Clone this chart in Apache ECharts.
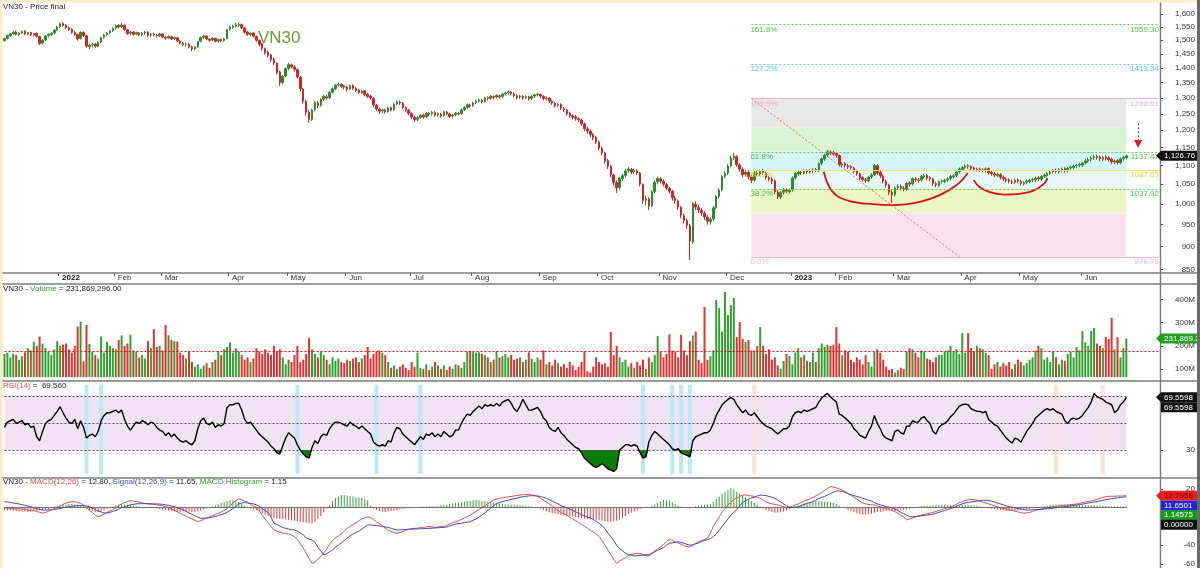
<!DOCTYPE html>
<html><head><meta charset="utf-8">
<script src="https://cdn.jsdelivr.net/npm/echarts@6/dist/echarts.min.js"></script>
<style>html,body{margin:0;padding:0;background:#fff;}#chart{width:1200px;height:568px;}</style>
</head><body><div id="chart"></div>
<script>
// ---------------- DATA ----------------
const slotCount = 395; // trading-day slots on the time axis (384 bars + empty right margin)
const categories = Array.from({length: slotCount}, (_, i) => String(i));
const monthIdx = [19,38,54,77,97,117,139,160,183,203,224,247,269,284,304,327,347,368];
const monthLabels = ['2022','Feb','Mar','Apr','May','Jun','Jul','Aug','Sep','Oct','Nov','Dec','2023','Feb','Mar','Apr','May','Jun'];

// [open, close, low, high]
const candles = [
[1498,1506,1495,1510],[1507,1518,1503,1521],[1517,1524,1512,1528],[1525,1530,1520,1534],[1531,1522,1518,1535],
[1521,1527,1516,1530],[1528,1533,1524,1537],[1534,1524,1520,1538],[1523,1528,1519,1531],[1529,1521,1516,1532],
[1520,1525,1514,1528],[1526,1515,1510,1529],[1514,1488,1482,1516],[1489,1500,1484,1504],[1501,1516,1497,1519],
[1517,1522,1511,1526],[1521,1526,1516,1530],[1527,1538,1522,1542],[1539,1550,1535,1555],[1551,1562,1546,1568],
[1563,1556,1550,1570],[1557,1548,1542,1561],[1547,1540,1535,1552],[1541,1530,1524,1545],[1529,1522,1516,1534],
[1521,1505,1498,1525],[1506,1530,1503,1533],[1529,1518,1512,1533],[1517,1478,1472,1520],[1477,1482,1468,1488],
[1483,1485,1474,1490],[1486,1478,1472,1490],[1479,1492,1475,1496],[1493,1510,1489,1513],[1511,1520,1506,1524],
[1521,1527,1515,1531],[1528,1535,1523,1539],[1536,1545,1531,1549],[1546,1555,1540,1560],[1556,1550,1544,1561],
[1551,1558,1546,1565],[1557,1540,1535,1560],[1539,1525,1520,1543],[1526,1530,1519,1535],[1531,1522,1517,1534],
[1523,1528,1518,1532],[1527,1520,1515,1531],[1521,1526,1516,1530],[1527,1530,1520,1535],[1531,1518,1513,1534],
[1519,1522,1512,1527],[1523,1520,1514,1528],[1519,1516,1510,1524],[1517,1524,1512,1528],[1523,1512,1507,1527],
[1511,1508,1502,1516],[1509,1514,1504,1518],[1513,1505,1500,1517],[1506,1510,1500,1514],[1509,1498,1492,1512],
[1497,1490,1484,1501],[1489,1484,1478,1494],[1485,1486,1476,1492],[1485,1476,1470,1489],[1475,1468,1460,1480],
[1469,1474,1462,1478],[1475,1495,1472,1498],[1496,1510,1492,1514],[1511,1516,1505,1521],[1515,1505,1500,1519],
[1504,1500,1494,1508],[1501,1508,1496,1512],[1507,1496,1492,1510],[1497,1502,1490,1506],[1503,1498,1492,1507],
[1499,1505,1494,1509],[1506,1540,1503,1543],[1541,1550,1536,1555],[1549,1553,1543,1559],[1554,1558,1548,1566],
[1557,1560,1550,1568],[1559,1548,1542,1563],[1547,1530,1525,1550],[1531,1522,1516,1535],[1521,1526,1515,1530],
[1527,1515,1510,1530],[1514,1500,1494,1517],[1499,1485,1478,1503],[1486,1470,1462,1490],[1469,1455,1448,1473],
[1456,1445,1438,1462],[1446,1430,1422,1450],[1431,1418,1410,1436],[1417,1385,1378,1420],[1386,1350,1340,1390],
[1351,1372,1345,1376],[1373,1398,1368,1402],[1399,1412,1392,1418],[1411,1405,1398,1416],[1404,1396,1388,1410],
[1395,1370,1364,1398],[1369,1330,1322,1372],[1329,1290,1282,1332],[1289,1255,1245,1294],[1254,1232,1222,1262],
[1233,1262,1228,1266],[1263,1285,1258,1290],[1284,1276,1268,1290],[1277,1295,1272,1299],[1296,1305,1290,1310],
[1304,1300,1294,1310],[1301,1318,1297,1322],[1319,1330,1314,1334],[1331,1342,1326,1346],[1343,1345,1336,1350],
[1344,1338,1332,1348],[1339,1335,1328,1343],[1336,1328,1322,1340],[1329,1340,1325,1344],[1341,1332,1326,1345],
[1331,1325,1320,1336],[1326,1318,1312,1330],[1317,1322,1312,1327],[1323,1312,1306,1326],[1311,1305,1300,1316],
[1306,1300,1294,1310],[1299,1278,1272,1302],[1277,1265,1258,1281],[1264,1258,1250,1269],[1259,1262,1252,1267],
[1261,1256,1250,1266],[1257,1268,1253,1272],[1269,1262,1257,1273],[1263,1280,1259,1284],[1281,1288,1276,1292],
[1287,1284,1278,1292],[1283,1270,1265,1287],[1269,1262,1256,1273],[1261,1252,1246,1265],[1251,1240,1234,1255],
[1239,1232,1225,1244],[1233,1238,1228,1242],[1239,1245,1234,1249],[1246,1240,1235,1250],[1241,1252,1237,1256],
[1251,1248,1242,1256],[1249,1255,1244,1259],[1254,1246,1241,1258],[1247,1250,1242,1254],[1249,1244,1238,1253],
[1245,1256,1241,1260],[1255,1250,1245,1259],[1249,1242,1237,1253],[1243,1246,1238,1250],[1247,1252,1242,1256],
[1251,1250,1244,1256],[1251,1262,1247,1266],[1263,1270,1258,1274],[1271,1278,1266,1282],[1277,1275,1269,1282],
[1276,1284,1271,1288],[1285,1290,1280,1294],[1291,1294,1286,1298],[1293,1288,1283,1297],[1289,1300,1285,1304],
[1301,1298,1292,1305],[1299,1305,1294,1309],[1304,1302,1296,1308],[1303,1308,1298,1312],[1307,1304,1298,1311],
[1305,1312,1300,1316],[1313,1316,1308,1320],[1317,1320,1311,1325],[1319,1314,1308,1323],[1313,1308,1302,1318],
[1307,1302,1296,1312],[1303,1306,1297,1310],[1305,1300,1294,1309],[1301,1304,1296,1308],[1303,1298,1292,1307],
[1299,1305,1294,1309],[1306,1310,1300,1314],[1311,1312,1305,1317],[1311,1306,1300,1315],[1305,1298,1292,1309],
[1299,1300,1292,1305],[1299,1290,1284,1303],[1289,1284,1278,1293],[1283,1276,1270,1287],[1277,1280,1270,1285],
[1279,1268,1262,1283],[1267,1262,1256,1271],[1261,1250,1244,1265],[1251,1245,1238,1256],[1244,1240,1233,1249],
[1241,1236,1229,1246],[1235,1232,1225,1240],[1231,1220,1213,1235],[1219,1205,1198,1223],[1204,1198,1190,1210],
[1197,1188,1180,1202],[1187,1178,1171,1192],[1179,1166,1160,1183],[1165,1148,1142,1170],[1147,1135,1128,1152],
[1134,1112,1105,1138],[1113,1098,1090,1118],[1097,1075,1068,1101],[1074,1055,1046,1078],[1054,1040,1027,1060],
[1041,1065,1036,1069],[1064,1072,1058,1077],[1073,1085,1068,1090],[1086,1090,1080,1095],[1089,1082,1076,1093],
[1083,1086,1077,1091],[1085,1080,1074,1090],[1079,1050,1044,1082],[1049,1008,1000,1052],[1009,1012,996,1020],
[1011,995,985,1016],[996,1030,992,1034],[1031,1055,1027,1060],[1056,1065,1050,1070],[1064,1058,1052,1069],
[1057,1050,1044,1062],[1049,1040,1034,1053],[1039,1032,1026,1043],[1031,1015,1008,1035],[1014,1008,1000,1020],
[1007,992,985,1011],[991,972,965,995],[971,960,952,976],[959,948,940,964],[947,912,870,952],
[910,1000,905,1004],[999,992,985,1006],[991,985,978,997],[984,978,970,989],[977,968,960,982],
[967,958,950,972],[957,962,950,967],[963,990,958,994],[991,1018,987,1022],[1019,1035,1014,1040],
[1036,1070,1032,1074],[1071,1078,1065,1084],[1079,1098,1074,1103],[1099,1120,1094,1126],[1121,1125,1114,1134],
[1124,1102,1096,1128],[1101,1090,1083,1106],[1089,1075,1068,1094],[1076,1082,1070,1088],[1081,1070,1062,1086],
[1069,1060,1053,1074],[1061,1080,1057,1084],[1079,1078,1072,1086],[1077,1084,1072,1089],[1085,1080,1074,1090],
[1079,1068,1062,1083],[1067,1064,1057,1072],[1063,1058,1050,1068],[1059,1030,1024,1062],[1029,1018,1012,1034],
[1017,1028,1012,1032],[1029,1035,1023,1040],[1034,1032,1026,1039],[1031,1034,1026,1038],[1035,1066,1031,1070],
[1067,1078,1062,1082],[1077,1082,1072,1086],[1081,1080,1074,1086],[1079,1084,1075,1088],[1085,1083,1078,1089],
[1082,1086,1078,1090],[1085,1088,1080,1092],[1089,1087,1082,1093],[1086,1105,1082,1108],[1106,1118,1100,1122],
[1117,1128,1112,1132],[1129,1138,1123,1143],[1137,1134,1128,1142],[1135,1132,1126,1140],[1133,1128,1121,1137],
[1127,1102,1097,1130],[1101,1104,1095,1109],[1105,1100,1094,1109],[1099,1096,1090,1104],[1097,1094,1088,1101],
[1093,1084,1078,1096],[1085,1078,1072,1088],[1077,1066,1060,1080],[1067,1062,1056,1071],[1061,1060,1053,1066],
[1059,1068,1055,1072],[1069,1074,1064,1079],[1075,1100,1071,1104],[1099,1080,1074,1103],[1081,1072,1066,1085],
[1071,1058,1052,1075],[1057,1048,1041,1062],[1047,1030,1022,1051],[1029,1022,1002,1034],[1023,1040,1018,1044],
[1041,1045,1035,1050],[1044,1040,1034,1049],[1039,1038,1031,1045],[1037,1052,1033,1056],[1053,1050,1044,1058],
[1051,1064,1046,1068],[1063,1062,1056,1069],[1061,1060,1054,1066],[1061,1070,1056,1074],[1069,1072,1064,1077],
[1073,1066,1060,1077],[1067,1064,1058,1071],[1063,1052,1046,1067],[1051,1048,1042,1056],[1047,1056,1043,1060],
[1057,1058,1051,1062],[1057,1060,1052,1064],[1061,1064,1056,1068],[1065,1070,1060,1074],[1069,1072,1065,1076],
[1073,1082,1068,1086],[1083,1090,1078,1094],[1089,1094,1085,1098],[1095,1098,1090,1102],[1099,1097,1091,1103],
[1096,1092,1086,1100],[1093,1090,1084,1097],[1089,1089,1083,1094],[1090,1088,1082,1094],[1087,1087,1081,1092],
[1086,1090,1081,1094],[1091,1080,1075,1094],[1081,1078,1072,1085],[1077,1074,1068,1082],[1073,1076,1068,1080],
[1075,1068,1062,1079],[1067,1064,1058,1072],[1063,1060,1054,1068],[1061,1058,1052,1065],[1057,1056,1050,1062],
[1055,1060,1050,1064],[1061,1058,1052,1065],[1057,1052,1046,1061],[1051,1054,1046,1058],[1055,1058,1050,1062],
[1057,1060,1052,1064],[1061,1062,1055,1066],[1061,1066,1056,1070],[1067,1064,1058,1071],[1063,1070,1058,1074],
[1071,1074,1066,1078],[1073,1078,1068,1082],[1079,1082,1074,1086],[1083,1086,1078,1090],[1087,1084,1078,1091],
[1083,1088,1078,1092],[1089,1090,1083,1094],[1091,1086,1080,1095],[1085,1092,1081,1096],[1093,1095,1088,1099],
[1094,1098,1089,1102],[1099,1100,1093,1105],[1101,1102,1095,1107],[1101,1106,1096,1110],[1107,1112,1102,1117],
[1113,1116,1107,1121],[1117,1120,1111,1125],[1121,1124,1115,1129],[1125,1122,1116,1130],[1123,1118,1112,1127],
[1117,1122,1112,1126],[1123,1120,1114,1128],[1121,1116,1110,1125],[1117,1110,1104,1120],[1109,1112,1103,1116],
[1113,1108,1102,1117],[1107,1118,1103,1122],[1119,1122,1113,1126],[1121,1126.76,1116,1130]
];

// volume in millions of shares
const volumesM = [
165,170,150,165,160,140,155,172,190,180,
218,200,240,210,190,175,160,185,220,200,
205,210,185,170,200,283,304,133,290,208,
175,160,145,240,170,218,200,190,185,225,
245,200,210,248,180,175,150,160,145,220,
190,272,195,200,180,290,246,225,220,218,
170,160,145,175,130,110,120,100,115,125,
105,130,140,177,160,185,195,215,170,190,
175,160,140,150,130,145,190,175,165,185,
170,160,200,175,185,150,120,140,130,160,
200,130,140,165,235,185,165,150,175,160,
140,120,150,135,145,130,125,140,135,145,
150,130,145,160,195,145,165,175,180,170,
160,130,105,115,100,110,120,105,95,130,
110,170,105,100,120,95,110,130,115,100,
115,95,110,100,120,115,105,130,176,178,
175,170,172,165,160,150,130,140,176,150,
155,165,150,160,140,145,150,130,140,172,
145,130,150,140,180,120,130,115,140,125,
110,120,105,130,115,95,110,130,176,90,
85,110,150,130,120,125,110,260,160,200,
150,130,140,110,125,105,130,115,140,100,
150,130,160,242,175,150,165,250,180,175,
150,248,180,160,220,245,262,140,125,368,
140,155,180,398,364,262,433,333,376,407,
238,303,230,217,225,180,180,200,281,200,
165,185,140,150,115,100,135,165,155,120,
170,190,150,160,135,130,170,130,190,210,
195,205,200,205,281,210,160,180,175,140,
130,150,140,120,160,130,110,175,185,170,
140,110,95,100,85,95,105,100,175,190,
185,170,150,180,175,145,140,130,150,160,
160,175,180,200,175,185,165,255,170,255,
190,175,200,190,185,170,160,100,120,130,
110,125,115,130,100,120,140,130,115,125,
140,150,180,200,190,140,150,130,175,150,
120,140,135,165,175,150,195,180,264,215,
200,264,277,210,200,190,238,230,322,185,
238,150,190,231.87
];
const volumeAvgM = 178;

const rsi14 = [
47,51,52,53,50,51,52,49,50,47,
48,40,37,44,50,52,53,56,59,62.5,
58,54,51,50,53,46,52,47,39,41,
42,40,44,52,56,58,58,59,60,58,
60,53,48,45,48,51,50,52,51,49,
51,50,47,45,44,41,43,40,42,39,
37,36,37,35,34,37,46,52,54,50,
49,51,47,49,48,50,62,64,64,65,
65,60,53,50,51,48,45,42,40,38,
36,33,31,28,27,33,39,43,41,39,
34,30,27,25,24,32,37,35,40,42,
41,46,49,51,51,50,49,48,51,49,
48,46,48,46,44,42,36,34,33,34,
33,37,36,43,47,46,42,40,38,36,
34,37,40,38,42,41,43,40,42,40,
44,42,40,41,45,45,50,54,57,56,
59,61,63,61,64,63,64,63,65,63,
66,67,68,65,61,59,63,68,64,60,
60,61,62,59,54,52,47,45,44,47,
43,41,38,36,34,32,31,28,24,22,
20,18,17,18,20,18,16,15,14,16,
30,32,34,34,33,34,33,28,24,25,
36,41,44,42,40,38,36,34,31,30,
31,28,27,26,25,37,40,41,42,43,
43,45,50,56,60,64,66,68,69.3,68,
64,61,58,60,57,56,58,55,52,50,
48,47,46,44,42,44,46,46,48,55,
58,59,58,60,59,60,61,62,66,69,
71,72.5,70,68,66,57,56,54,52,50,
46,44,41,40,39,44,48,56,50,46,
41,39,38,37,44,45,43,42,48,48,
52,51,51,54,55,52,50,44,42,47,
49,50,52,55,57,60,63,64,64.5,64,
61,60,59,59,58,59,53,51,49,48,
45,42,39,37,35.3,39,38,36,40,44,
47,50,54,56,58,60,61,60,61,59,
58,57,52,50,53,54,53,54,56,59,
62,66,72.5,70,69,68,66,65,64,58,
60,64,66,69.56
];
const rsiLevels = [70, 50, 30];
const rsiBuyMarks = [28,33,100,127,142,218,228,231,234];
const rsiSellMarks = [256,359,375];

const macdLine = [
0,-0.5,-1,-1,-1.5,-1,-1.5,-2,-2.5,-3,
-3,-4,-5,-5.7,-5,-4,-2.5,-1,0,2,
3.5,5,5.8,6.2,6.4,5.5,4.5,3,0,-3,
-5,-8,-9.6,-8.5,-7,-5,-3.5,-2,0,2,
4,5.5,6.5,7.4,7,6.5,6,5,4.5,4,
3.8,3.5,3,2.5,2,1,0,-1.5,-3,-4.5,
-6,-7.5,-9,-10.5,-12,-13.5,-14.9,-14,-12.5,-11,
-10,-8.5,-7,-6,-4.5,-3,-1,2,5,7.5,
9.3,8.5,7,6,3.5,1.5,0,-3,-8,-12,
-16,-20,-23.7,-25,-26,-27,-27.5,-28,-29,-31,
-34,-38,-43,-48.5,-54,-59.2,-58,-55,-52,-48.5,
-44,-39,-35,-32,-30,-28,-25,-22,-20,-18,
-16,-14,-12,-11,-9.6,-10.5,-12.5,-15,-17,-19,
-22,-24,-25.5,-26.5,-27.2,-26.5,-25.5,-24,-23,-22.5,
-22,-22,-21,-21,-20.5,-20,-20.5,-21,-20.5,-20,
-20,-19,-17.5,-16,-15,-14,-12.5,-11,-9.5,-8,
-6,-4,-2,0,2,4,6,8.2,9,10,
10.5,11,11.5,12,12.5,13,13.5,13.8,14,14.2,
13.5,13,12,10,8,6,4,2,-1,-3,
-5,-6.5,-8,-10,-12,-14,-16,-18,-20,-22,
-24,-26,-28,-30.8,-35,-40,-45,-50,-55,-59.2,
-57,-55,-53,-51,-50,-49,-48.5,-49,-50,-51,
-51.4,-49,-46,-44,-42,-39,-36,-33.6,-35,-36.5,
-37.6,-39,-40.5,-41.5,-42.1,-40,-38,-36,-35,-34,
-32.6,-27,-20,-15,-10,-5,-1,3,6,8.5,
10.5,12,13.5,13.5,13,12.5,12,11,10,8,
6,5,4,3.5,2.9,2,1,0,0.5,1.5,
3,4,5.5,7,8,9.3,11,12.5,14,16,
18.5,20.5,22.4,22,21,20,18.5,17,15,13,
11,9,7,5,4,3.5,3.2,2.9,2,1,
0,-1,-2,-3,-4.2,-6,-8,-10,-13,-12,
-11,-10,-9,-8,-7,-6.5,-5.9,-5,-4,-3,
-2,-1,0,1,2,3.5,5.4,6.5,7.5,8.3,
8.9,8.5,8,7,6,5,4,3,2,1,
0,-0.8,-1.5,-2.2,-3,-3.8,-4.5,-5.2,-5.9,-5.5,
-5,-4,-3,-2,-1.5,-1,0,0.5,1,1.5,
1.9,2.2,2.5,2.8,3.2,3.5,4,4.5,5.3,6,
6.5,7.2,8,9,10,10.8,11.7,12,12.2,12,
12.5,12.3,12.6,12.8
];
const signalLine = [
6.4,6,5.5,5,4.5,4,3.2,2.5,1.8,1,
0,-1,-2,-2.5,-2.6,-2.5,-2.2,-2,-1.5,-1,
0,0.5,1,1.5,2,2.2,2.3,2.2,1.8,1,
-0.5,-2,-3.5,-4.5,-5.7,-5.5,-5,-4,-3,-1.5,
0,1,2,3,3.5,4,4.2,4.3,4.3,4.2,
4.1,4,4,3.8,3.5,3,2.5,1.8,1,0,
-1,-2.5,-4,-5.5,-7,-8.5,-10,-11.3,-11.3,-11,
-10.5,-10,-9.3,-8.5,-7.5,-6.5,-5,-3,-1,1.5,
4,5,5.5,5,4.5,4,3,1.5,-1,-3,
-5,-10,-16.6,-18,-19.5,-21,-22,-22.8,-23.3,-23.7,
-25,-27,-29,-32,-33.5,-34.4,-37,-42,-46,-50.3,
-49,-47,-45,-42,-40,-37.6,-35,-32.5,-30,-28,
-26.5,-25,-23,-20.5,-18.4,-18.5,-18.7,-19,-19.5,-20,
-20.5,-21,-22,-23,-23.7,-23.7,-23.5,-23.3,-23,-22.8,
-22.7,-22.6,-22.5,-22.3,-22.2,-22,-21.8,-21.6,-21.4,-21.2,
-21,-20.5,-19.5,-18.5,-17.5,-17,-16.5,-16,-15.5,-14.9,
-13.5,-12,-10,-8,-5.5,-3,-0.5,2,4.6,5.5,
6.5,7.3,8,8.8,9.5,10.2,11,11.6,12.1,12.5,
12.8,12.7,12.4,11.9,11,10,8.5,7,5.5,4,
2,1,0,-1.5,-3,-4.5,-6,-7.5,-8.8,-10,
-11,-12.5,-14.5,-16.6,-19,-22.5,-27,-31,-35,-40,
-43.5,-46,-48.5,-50,-50.8,-51.4,-51.2,-50.8,-50.5,-50.2,
-50,-48.5,-47,-45.5,-44,-42.5,-40,-38,-37.5,-37,
-36.2,-37,-38,-39,-40,-39.5,-38.5,-37.5,-36,-35,
-34,-33,-30.8,-28,-24,-20,-16,-12,-8,-5,
-2,2,5.4,7.5,9,10.5,11,12.5,13.5,13.2,
12.8,12,11,10,8,6,4,2,0.2,0.2,
0.5,1,2,3.5,4.5,5.4,6.5,8,9.5,11,
12,13.5,15,16.5,17.8,17.8,17.5,16,15,13.8,
12.8,12,11,10,9,8,7,5.5,4,3,
2,1,0.5,0,-1.5,-3,-5,-6.5,-8,-9.6,
-9.6,-9.4,-9,-8.6,-8.2,-7.8,-7.6,-7,-6,-5,
-4,-3,-2,-1,0,1.5,2.9,4,5,5.6,
6,6.5,7,7.5,8,8,7.5,7,6,5,
4,3,2,1,0.5,0,-0.8,-1.5,-2,-2.5,
-2.5,-2.3,-2.1,-2,-1.8,-1.5,-1.2,-1,-0.5,0,
0.2,0.5,1,1.5,2,2.3,2.8,3.3,3.8,4.4,
5,5.5,6,6.6,7.2,7.8,8.5,9,9.5,10,
10.5,11,11.3,11.65
];
const macdHist = [
-2.5,-3,-3,-3.5,-3.5,-4,-4,-4,-4.5,-4,
-3.5,-3.5,-3,-2.5,-2,-1.5,-0.5,1,2,2.5,
3,3.5,4,4,3.5,3,2.5,1.5,-1,-2.5,
-3.5,-4.5,-4.5,-4,-3,-1.5,0.5,1.5,2.5,3,
3.5,3.5,3,2.5,2,1.5,1.2,0.8,0.5,0.3,
-0.3,-0.5,-1,-1.5,-2,-2.5,-3,-3.5,-4,-4.5,
-4.5,-4,-4,-4,-4.5,-4.5,-4,-3,-2,-1,
0.5,1.5,2.5,3.5,5,6,7,8,8,7.5,
6,4,2,1,-0.5,-2,-3,-4.5,-6,-7.5,
-9,-10,-11,-11.5,-12,-12,-12.5,-13,-13.5,-14,
-14.5,-15,-15.5,-16,-16.6,-16.6,-15,-12,-9,-5,
-1,3,7,10,12,13.5,13.5,13,12.5,12,
11,10.5,10,9,8,2,-1,-2.5,-3.5,-4.5,
-4.5,-4,-3.5,-3,-2.5,-2,-1.5,-1,-0.5,0.3,
0.5,0.5,0.8,1,1.2,1.5,1.5,1.8,2,2.5,
3,3.5,4,4.5,5,5.5,6,6.5,7,7.5,
8,8.2,8,7.5,7,6.5,6,5.5,5,4.5,
4,3.7,3.5,3.2,3,2.8,2.5,2.2,2,1.7,
1.2,0.6,0,-1,-2.5,-4,-5,-6,-6.5,-7,
-7.5,-8,-8.5,-9,-9.5,-10,-10.5,-11,-11.5,-12,
-12.5,-13,-13,-13.5,-14,-14.5,-14.9,-14.9,-14.5,-14,
-13,-11,-9,-7,-5.5,-4,-3,-1.5,-0.5,0.5,
1,2,3.5,5,6.5,8.2,8,7.5,6,4,
2,1,0.5,-0.5,-1,0.5,1.5,2,2.5,3,
3.5,4,6,9,12,15,17,19,20.6,19.5,
17,15,13,11,9,7,5,3,1,-1,
-2.5,-3.5,-4.5,-5.3,-5.3,-5,-4,-3,-1.5,0.5,
1.5,2.5,3.5,4.5,5.5,6,6.5,7.1,7,6.8,
6.5,6,5.5,5,4,2,0.5,-1,-2.5,-4,
-5,-6,-7,-7.6,-7.6,-7,-6.5,-5.5,-5,-4.5,
-4,-3.5,-3,-3,-3.5,-3.5,-3,-2.5,-2,-1,
-0.5,0.5,1,1.5,1.8,2,2.2,2.4,2.6,2.8,
3,3,2.8,2.6,2.5,2.5,2.6,2.8,3,3,
2.8,2.5,2,1.5,1,0.5,-0.5,-1,-1.5,-2,
-2.5,-3,-3.5,-3.5,-3.5,-3.5,-3,-2.8,-2.5,-2,
-1.5,-1,-0.5,0.5,1,1.5,2,2.5,2.8,3,
3.2,3.4,3.5,3.6,3.6,3.5,3.4,3.3,3.2,3,
2.8,2.6,2.4,2.3,2.2,2,1.8,1.6,1.4,1.3,
1.2,1.2,1.15,1.15
];

// axis ticks
const priceTicks = [850,900,950,1000,1050,1100,1150,1200,1250,1300,1350,1400,1450,1500,1550,1600];
const volumeTicks = [100,200,300,400];
const rsiTicks = [30];
const macdTicks = [20,-40,-60];

// Fibonacci drawing
const fibStartIdx = 255, fibEndIdx = 383, fibDiagEndIdx = 326;
const fibPct = ['161.8%','127.2%','100.0%','61.8%','50.0%','38.2%','0.0%'];
const fibValues = [1559.30,1413.34,1298.61,1137.47,1087.69,1037.92,876.76];
const fibBandEdges = [1298.61,1208.33,1137.47,1087.69,1037.92,976.32,876.76];
// cup & handle arcs [slot, price]
const arcBig = [[279.7,1082.6],[282.8,1029.4],[288.6,1006.7],[296.4,999.2],[303.3,996.7],[312.5,1004.9],[319.3,1021.8],[325.1,1047.5],[328.9,1079.2]];
const arcSmall = [[330.9,1060.5],[332.9,1042.3],[336.4,1029.4],[341.5,1023],[346.6,1025],[351.7,1034.5],[355.1,1052.7],[356.1,1065.8]];
const arrowIdx = 387, arrowTop = 1221, arrowTip = 1160;

// last values shown in tags
const lastPrice = 1126.76, lastVolumeM = 231.8693, lastRsi = 69.5598;
const lastMacd = 12.7958, lastSignal = 11.6501, lastHist = 1.14575;

// ---------------- CHART ----------------
const FONT = '"Liberation Sans", Arial, sans-serif';
const UP = '#2b8c2b', DOWN = '#cd2525';
const L = v => Math.log10(v);
const chart = echarts.init(document.getElementById('chart'));
const monthMap = new Map(monthIdx.map((v, k) => [v, monthLabels[k]]));

const fibLineStyles = [
  {color:'#5ccf5c', type:[2,2]}, {color:'#62cfdd', type:[2,2]}, {color:'#f2b4c6', type:'solid'},
  {color:'#5ccf5c', type:[2,2]}, {color:'#ecec66', type:'solid'}, {color:'#5ccf5c', type:[2,2]},
  {color:'#f2b4c6', type:'solid'}
];
const fibTextColors = ['#4cc44c','#52c4d4','#f0b0c4','#4cc44c','#d6d63a','#4cc44c','#f0b8c8'];
const bandColors = ['#e8e8e8','#d9f4d2','#d4f4f7','#e8f8f6','#ebf6c4','#fbe1ee'];

const hiddenCat = g => ({type:'category', gridIndex:g, data:categories, boundaryGap:true,
  axisLine:{show:false, onZero:false}, axisTick:{show:false}, axisLabel:{show:false}, splitLine:{show:false}});
const yAxisOf = (g, min, max, ticks, fmt) => ({type:'value', gridIndex:g, position:'right', min, max,
  splitLine:{show:false}, axisLine:{show:false, onZero:false},
  axisTick:{show:true, customValues:ticks, length:3, lineStyle:{color:'#444'}},
  axisLabel:{customValues:ticks, formatter:fmt, align:'right', margin:35, fontSize:8, color:'#333', fontFamily:FONT}});

const priceData = candles.map(r => r.map(L));
const volData = volumesM.map((v, i) => ({value: v, itemStyle: {color: candles[i][1] >= candles[i][0] ? '#34a034' : '#dd3434'}}));
const rsiBelow = rsi14.map(v => Math.min(v, 30));
const rsiGap = rsi14.map(v => 30 - Math.min(v, 30));
const markSet = new Set([...rsiBuyMarks, ...rsiSellMarks]);
const sigBase = categories.map((_, i) => markSet.has(i) ? 12 : '-');
const sigBar = categories.map((_, i) => rsiBuyMarks.includes(i) ? {value: 67, itemStyle:{color:'#bde8f6'}}
  : rsiSellMarks.includes(i) ? {value: 67, itemStyle:{color:'#fbe0e2'}} : '-');
const histData = macdHist.map(v => ({value: v, itemStyle: {color: v >= 0 ? '#38a038' : '#e03a3a'}}));
const emptyLine = candles.map(() => '-');

const fibAreas = bandColors.map((c, k) => [
  {coord:[fibStartIdx, L(fibBandEdges[k])], itemStyle:{color:c}},
  {coord:[fibEndIdx, L(fibBandEdges[k+1])]}
]);
const fibLines = fibValues.map((v, k) => [
  {coord:[fibStartIdx, L(v)], lineStyle:Object.assign({width:1}, fibLineStyles[k])},
  {coord:[slotCount-1, L(v)]}
]);
fibLines.push([
  {coord:[fibStartIdx, L(fibValues[2])], lineStyle:{color:'#c86a6a', type:[2,2], width:1}},
  {coord:[fibDiagEndIdx, L(fibValues[6])]}
]);
fibLines.push([
  {coord:[arrowIdx, L(arrowTop)], lineStyle:{color:'#e02020', type:[2,2], width:1}, symbol:'none'},
  {coord:[arrowIdx, L(arrowTip)], symbol:'triangle', symbolSize:[8,8]}
]);

const titleBase = {left:3, padding:0, textStyle:{fontSize:8, fontFamily:FONT, color:'#222', fontWeight:'normal'}};
const rich = {
  k:{fontSize:8, fontFamily:FONT, color:'#222'},
  g:{fontSize:8, fontFamily:FONT, color:'#2f9a2f'},
  r:{fontSize:8, fontFamily:FONT, color:'#e04848'},
  b:{fontSize:8, fontFamily:FONT, color:'#4848c8'}
};

const option = {
  animation:false,
  backgroundColor:'#ffffff',
  title:[
    Object.assign({}, titleBase, {top:3, text:'{k|VN30 - Price final}', textStyle:Object.assign({}, titleBase.textStyle, {rich})}),
    Object.assign({}, titleBase, {top:285, text:'{k|VN30 - }{g|Volume}{k| = 231,869,296.00}', textStyle:Object.assign({}, titleBase.textStyle, {rich})}),
    Object.assign({}, titleBase, {top:382, text:'{r|RSI(14)}{k| =  69.560}', textStyle:Object.assign({}, titleBase.textStyle, {rich})}),
    Object.assign({}, titleBase, {top:478, text:'{k|VN30 - }{r|MACD(12,26)}{k| = 12.80, }{b|Signal(12,26,9)}{k| = 11.65, }{g|MACD Histogram}{k| = 1.15}', textStyle:Object.assign({}, titleBase.textStyle, {rich})})
  ],
  grid:[
    {left:3, right:40, top:3, height:269.7},
    {left:3, right:40, top:284, height:93},
    {left:3, right:40, top:381, height:96.7},
    {left:3, right:40, top:478, height:90}
  ],
  xAxis:[
    {type:'category', gridIndex:0, data:categories, boundaryGap:true,
     axisLine:{show:false, onZero:false}, splitLine:{show:false},
     axisTick:{show:true, interval:(i) => monthMap.has(i), length:3, lineStyle:{color:'#333'}},
     axisLabel:{show:true, interval:(i) => monthMap.has(i), align:'left', margin:1, padding:[0,0,0,2],
       fontSize:8, color:'#333', fontFamily:FONT,
       formatter:(v, i) => { const t = monthMap.get(i) || ''; return /^\d{4}$/.test(t) ? '{y|' + t + '}' : t; },
       rich:{y:{fontWeight:'bold', fontSize:8, color:'#111', fontFamily:FONT}}}},
    hiddenCat(1), hiddenCat(2), hiddenCat(3),
    {type:'value', gridIndex:0, min:-0.5, max:slotCount-0.5, show:false,
     axisLine:{show:false, onZero:false}, axisTick:{show:false}, axisLabel:{show:false}, splitLine:{show:false}}
  ],
  yAxis:[
    yAxisOf(0, L(843), L(1645), priceTicks.map(L), v => Math.round(Math.pow(10, v)).toLocaleString('en-US')),
    yAxisOf(1, 65, 467.6, volumeTicks, v => v + 'M'),
    yAxisOf(2, 9.3, 81.8, rsiTicks, v => String(v)),
    yAxisOf(3, -64.1, 31.6, macdTicks, v => String(v))
  ],
  series:[
    {type:'line', xAxisIndex:0, yAxisIndex:0, data:emptyLine, z:1, silent:true, symbol:'none',
     markArea:{silent:true, data:fibAreas},
     markLine:{silent:true, symbol:['none','none'], label:{show:false}, data:fibLines}},
    {type:'candlestick', xAxisIndex:0, yAxisIndex:0, data:priceData, barWidth:2, z:3,
     itemStyle:{color:UP, color0:DOWN, borderColor:UP, borderColor0:DOWN, borderWidth:1}},
    {type:'line', xAxisIndex:4, yAxisIndex:0, data:arcBig.map(p => [p[0], L(p[1])]), smooth:0.4, symbol:'none', z:4,
     lineStyle:{color:'#d41414', width:1.8}},
    {type:'line', xAxisIndex:4, yAxisIndex:0, data:arcSmall.map(p => [p[0], L(p[1])]), smooth:0.4, symbol:'none', z:4,
     lineStyle:{color:'#d41414', width:1.8}},
    {type:'bar', xAxisIndex:1, yAxisIndex:1, data:volData, barWidth:2, z:2},
    {type:'line', xAxisIndex:1, yAxisIndex:1, data:emptyLine, z:5, silent:true, symbol:'none',
     markLine:{silent:true, symbol:['none','none'], label:{show:false},
       lineStyle:{color:'#e01010', type:[2,2], width:1},
       data:[[{coord:[0, volumeAvgM], lineStyle:{color:'#e01010', type:[2,2], width:1}}, {coord:[slotCount-1, volumeAvgM]}]]}},
    {type:'line', xAxisIndex:2, yAxisIndex:2, data:emptyLine, z:0, silent:true, symbol:'none',
     markArea:{silent:true, itemStyle:{color:'#efe3f2'}, data:[[{coord:[0,30]},{coord:[fibEndIdx,70]}]]}},
    {type:'bar', xAxisIndex:2, yAxisIndex:2, stack:'sig', data:sigBase, barWidth:4, z:1, itemStyle:{color:'rgba(0,0,0,0)'}},
    {type:'bar', xAxisIndex:2, yAxisIndex:2, stack:'sig', data:sigBar, barWidth:4, z:1},
    {type:'line', xAxisIndex:2, yAxisIndex:2, data:emptyLine, z:2, silent:true, symbol:'none',
     markLine:{silent:true, symbol:['none','none'], label:{show:false}, lineStyle:{color:'#555', type:[2,2], width:1},
       data:rsiLevels.map(v => [{coord:[0, v]}, {coord:[fibEndIdx, v]}])}},
    {type:'line', xAxisIndex:2, yAxisIndex:2, stack:'os', data:rsiBelow, symbol:'none', z:3, lineStyle:{opacity:0}},
    {type:'line', xAxisIndex:2, yAxisIndex:2, stack:'os', data:rsiGap, symbol:'none', z:3, lineStyle:{opacity:0},
     areaStyle:{color:'#0b7d0b', opacity:1}},
    {type:'line', xAxisIndex:2, yAxisIndex:2, data:rsi14, symbol:'none', z:5, lineStyle:{color:'#000', width:1.4}},
    {type:'bar', xAxisIndex:3, yAxisIndex:3, data:histData, barWidth:1, z:2,
     markLine:{silent:true, symbol:['none','none'], label:{show:false}, lineStyle:{color:'#555', type:'solid', width:0.8},
       data:[[{coord:[0,0]},{coord:[fibEndIdx,0]}]]}},
    {type:'line', xAxisIndex:3, yAxisIndex:3, data:macdLine, symbol:'none', z:4, lineStyle:{color:'#e05050', width:1}},
    {type:'line', xAxisIndex:3, yAxisIndex:3, data:signalLine, symbol:'none', z:4, lineStyle:{color:'#4646c4', width:1}}
  ]
};
chart.setOption(option);

// ---------- overlay graphics (positions computed through chart scales) ----------
const pY = (grid, v) => chart.convertToPixel({xAxisIndex:grid === 0 ? 0 : grid, yAxisIndex:grid}, [0, v])[1];
const pX = (idx) => chart.convertToPixel({xAxisIndex:0, yAxisIndex:0}, [idx, L(1000)])[0];
const g = [];
function tag(y, text, bg, fg, arrow) {
  const x0 = 1161, w = 38, h = 10;
  const pts = arrow ? [[x0-5,y],[x0,y-h/2],[x0+w,y-h/2],[x0+w,y+h/2],[x0,y+h/2]]
                    : [[x0,y-h/2],[x0+w,y-h/2],[x0+w,y+h/2],[x0,y+h/2]];
  g.push({type:'polygon', shape:{points:pts}, style:{fill:bg}, z:100});
  g.push({type:'text', x:x0+3, y:y, z:101, style:{text, fill:fg, fontSize:8, fontFamily:FONT, verticalAlign:'middle', align:'left'}});
}
// frame
g.push({type:'rect', shape:{x:0,y:0,width:1200,height:2.5}, style:{fill:'#f8edc6'}, z:90});
g.push({type:'rect', shape:{x:0,y:0,width:2.5,height:568}, style:{fill:'#f8edc6'}, z:90});
[273, 284, 381, 478].forEach(y => g.push({type:'line', shape:{x1:0,y1:y,x2:1197,y2:y}, style:{stroke:'#7c7c7c', lineWidth:1.5}, z:80}));
g.push({type:'line', shape:{x1:1160.5,y1:0,x2:1160.5,y2:568}, style:{stroke:'#7c7c7c', lineWidth:1.5}, z:80});
g.push({type:'rect', shape:{x:1197,y:0,width:3,height:568}, style:{fill:'#6a6a6a'}, z:110});
// big name
g.push({type:'text', x:258, y:38, z:60, style:{text:'VN30', fill:'#6a9c3a', fontSize:17, fontFamily:FONT, verticalAlign:'middle', align:'left'}});
// fib labels
const xFib = pX(fibStartIdx) - 1;
fibValues.forEach((v, k) => {
  const y = pY(0, L(v)) + 5;
  g.push({type:'text', x:xFib, y, z:60, style:{text:fibPct[k], fill:fibTextColors[k], fontSize:8, fontFamily:FONT, verticalAlign:'middle', align:'left'}});
  g.push({type:'text', x:1159, y, z:60, style:{text:v.toFixed(2), fill:fibTextColors[k], fontSize:8, fontFamily:FONT, verticalAlign:'middle', align:'right'}});
});
// value tags
tag(pY(0, L(lastPrice)), lastPrice.toLocaleString('en-US', {minimumFractionDigits:2}), '#111', '#fff', true);
tag(pY(1, lastVolumeM), '231,869.2', '#23a023', '#fff', true);
const yR = pY(2, lastRsi);
tag(yR, lastRsi.toFixed(4), '#111', '#fff', true);
tag(yR + 10, lastRsi.toFixed(4), '#111', '#fff', false);
const yM = pY(3, lastMacd);
tag(yM, lastMacd.toFixed(4), '#e42020', '#7a0000', true);
tag(yM + 10, lastSignal.toFixed(4), '#2222dd', '#fff', false);
tag(yM + 19.5, lastHist.toFixed(5), '#1a9a1a', '#fff', false);
tag(yM + 29, (0).toFixed(5), '#111', '#fff', false);
chart.setOption({graphic:g});
</script></body></html>
